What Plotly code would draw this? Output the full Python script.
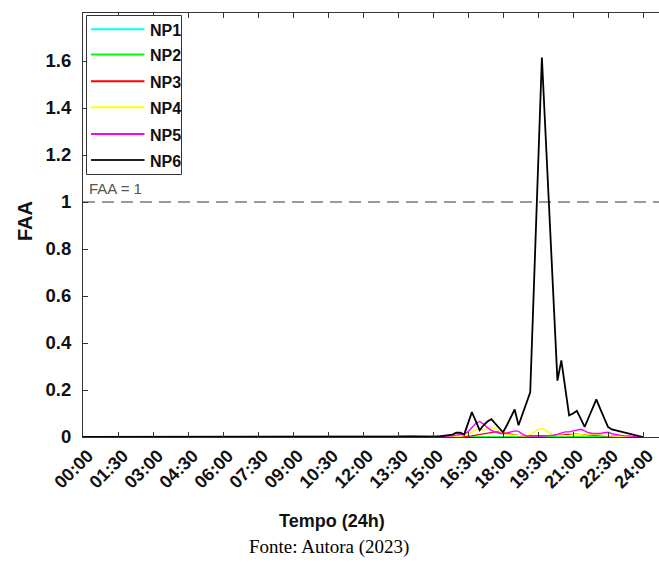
import plotly.graph_objects as go

# ---------------- data ----------------
times = ["00:00", "12:00", "13:00", "13:30", "14:00", "14:30",
         "15:00", "15:10", "15:20", "15:30", "15:40", "15:50",
         "16:00", "16:10", "16:20", "16:30", "16:40", "16:50",
         "17:00", "17:10", "17:20", "17:30", "17:40", "17:50",
         "18:00", "18:10", "18:20", "18:30", "18:40", "18:50",
         "19:00", "19:10", "19:20", "19:30", "19:40", "19:50",
         "20:00", "20:10", "20:20", "20:30", "20:40", "20:50",
         "21:00", "21:10", "21:20", "21:30", "21:40", "21:50",
         "22:00", "22:10", "22:20", "22:30", "22:40", "22:50",
         "23:00", "23:10", "23:20", "23:30", "23:40", "23:50",
         "24:00"]

np1 = [0, 0, 0, 0, 0, 0,
       0, 0, 0, 0, 0, 0,
       0, 0, 0, 0, 0, 0,
       0, 0, 0, 0, 0, 0,
       0, 0, 0, 0, 0, 0,
       0, 0, 0, 0, 0, 0,
       0, 0, 0, 0, 0, 0,
       0, 0, 0, 0, 0, 0,
       0, 0, 0, 0, 0, 0,
       0, 0, 0, 0, 0, 0,
       0]

np2 = [0, 0, 0, 0, 0, 0,
       0, 0, 0, 0, 0, 0,
       0, 0, 0, 0.001, 0.002, 0.002,
       0.002, 0.002, 0.002, 0.002, 0.002, 0.002,
       0.002, 0.002, 0.001, 0.001, 0.001, 0.001,
       0.001, 0.001, 0.001, 0.001, 0.001, 0.001,
       0.001, 0.001, 0.001, 0.001, 0.001, 0.001,
       0.001, 0.001, 0.001, 0.001, 0.001, 0.001,
       0.001, 0.001, 0.001, 0.001, 0.001, 0.001,
       0.001, 0.001, 0.001, 0, 0, 0,
       0]

np3 = [0, 0, 0, 0, 0, 0,
       0, 0, 0, 0, 0, 0,
       0.001, 0.001, 0.002, 0.003, 0.005, 0.008,
       0.012, 0.015, 0.018, 0.020, 0.022, 0.021,
       0.018, 0.014, 0.010, 0.008, 0.006, 0.005,
       0.005, 0.005, 0.004, 0.004, 0.005, 0.005,
       0.006, 0.007, 0.008, 0.009, 0.010, 0.010,
       0.010, 0.012, 0.010, 0.009, 0.008, 0.008,
       0.008, 0.007, 0.006, 0.005, 0.004, 0.003,
       0.003, 0.002, 0.002, 0.001, 0.001, 0,
       0]

np4 = [0, 0, 0, 0, 0, 0,
       0, 0, 0, 0, 0, 0.001,
       0.002, 0.003, 0.006, 0.012, 0.020, 0.030,
       0.034, 0.030, 0.036, 0.040, 0.036, 0.026,
       0.016, 0.010, 0.008, 0.006, 0.005, 0.005,
       0.006, 0.010, 0.020, 0.032, 0.036, 0.028,
       0.016, 0.010, 0.008, 0.006, 0.006, 0.007,
       0.010, 0.012, 0.010, 0.008, 0.010, 0.012,
       0.010, 0.008, 0.006, 0.005, 0.004, 0.003,
       0.003, 0.002, 0.002, 0.001, 0.001, 0,
       0]

np5 = [0, 0, 0.003, 0.002, 0.004, 0.002,
       0, 0.001, 0.002, 0.002, 0.003, 0.005,
       0.008, 0.010, 0.014, 0.022, 0.040, 0.058,
       0.066, 0.055, 0.040, 0.028, 0.022, 0.016,
       0.014, 0.016, 0.022, 0.026, 0.024, 0.012,
       0.005, 0.004, 0.004, 0.003, 0.004, 0.005,
       0.006, 0.008, 0.012, 0.018, 0.022, 0.022,
       0.025, 0.028, 0.033, 0.026, 0.018, 0.015,
       0.014, 0.015, 0.018, 0.020, 0.014, 0.010,
       0.008, 0.006, 0.005, 0.003, 0.002, 0.001,
       0]

np6 = [0, 0, 0.001, 0.002, 0.002, 0.003,
       0.003, 0.003, 0.004, 0.005, 0.006, 0.010,
       0.018, 0.018, 0.010, 0.055, 0.106, 0.068,
       0.029, 0.050, 0.066, 0.076, 0.058, 0.040,
       0.020, 0.050, 0.085, 0.117, 0.050, 0.097,
       0.143, 0.190, 0.665, 1.140, 1.615, 1.270,
       0.930, 0.580, 0.240, 0.326, 0.210, 0.092,
       0.100, 0.111, 0.077, 0.043, 0.082, 0.121,
       0.160, 0.120, 0.082, 0.043, 0.032, 0.028,
       0.025, 0.021, 0.016, 0.010, 0.006, 0.003,
       0]

series_names = ["NP1", "NP2", "NP3", "NP4", "NP5", "NP6"]
series_values = [np1, np2, np3, np4, np5, np6]
series_colors = ["#00FFFF", "#00FF00", "#FF0000", "#FFFF00", "#FF00FF", "#000000"]

x_tick_labels = ["00:00", "01:30", "03:00", "04:30", "06:00", "07:30", "09:00",
                 "10:30", "12:00", "13:30", "15:00", "16:30", "18:00", "19:30",
                 "21:00", "22:30", "24:00"]
y_tick_values = [0, 0.2, 0.4, 0.6, 0.8, 1, 1.2, 1.4, 1.6]
y_tick_labels = ["0", "0.2", "0.4", "0.6", "0.8", "1", "1.2", "1.4", "1.6"]
threshold = 1.0


def to_hours(s):
    h, m = s.split(":")
    return int(h) + int(m) / 60.0


hours = [to_hours(t) for t in times]
x_tick_values = [to_hours(t) for t in x_tick_labels]

# ---------------- layout geometry (pixels) ----------------
W, H = 659, 566
L, R, T, B = 83, 659, 13, 437


def px(x):
    return (x - L) / (R - L)


def py(y):
    return (B - y) / (B - T)


SANS = "Liberation Sans, Arial, sans-serif"
AXC = "#333333"

fig = go.Figure()
for name, vals, col in zip(series_names, series_values, series_colors):
    fig.add_trace(go.Scatter(
        x=hours, y=vals, mode="lines", name=name,
        line=dict(color=col, width=1.8 if name == "NP6" else 1.4),
        showlegend=False,
    ))

shapes = []
annotations = []

# threshold dashed line
shapes.append(dict(type="line", xref="paper", yref="y", x0=0, x1=1,
                   y0=threshold, y1=threshold,
                   line=dict(color="#7a7a7a", width=1.3, dash="12px,7px"),
                   layer="below"))
annotations.append(dict(xref="paper", yref="paper", x=px(87), y=py(188),
                        xanchor="left", yanchor="middle", showarrow=False,
                        text="FAA = 1",
                        font=dict(family=SANS, size=15, color="#555555")))

# legend box (drawn manually to match sample-line length)
shapes.append(dict(type="rect", xref="paper", yref="paper",
                   x0=px(86.5), x1=px(181.5), y0=py(15.5), y1=py(174.5),
                   line=dict(color=AXC, width=1), fillcolor="white",
                   layer="above"))
leg_y = [29.3, 54.6, 81.3, 107.3, 134, 160]
for name, col, yy in zip(series_names, series_colors, leg_y):
    shapes.append(dict(type="line", xref="paper", yref="paper",
                       x0=px(91), x1=px(144.5), y0=py(yy), y1=py(yy),
                       line=dict(color=col if name != "NP6" else "#222222", width=2),
                       layer="above"))
    annotations.append(dict(xref="paper", yref="paper", x=px(147.5), y=py(yy + 1),
                            xanchor="left", yanchor="middle", showarrow=False,
                            text=name,
                            font=dict(family=SANS, size=16, color="#111111",
                                      weight="bold")))

# axis titles and source note
annotations.append(dict(xref="paper", yref="paper", x=px(332), y=py(521),
                        xanchor="center", yanchor="middle", showarrow=False,
                        text="Tempo (24h)",
                        font=dict(family=SANS, size=18, color="#111111", weight="bold")))
annotations.append(dict(xref="paper", yref="paper", x=px(25), y=py(221),
                        xanchor="center", yanchor="middle", showarrow=False,
                        text="FAA", textangle=-90,
                        font=dict(family=SANS, size=20, color="#111111", weight="bold")))
annotations.append(dict(xref="paper", yref="paper", x=px(329), y=py(547),
                        xanchor="center", yanchor="middle", showarrow=False,
                        text="Fonte: Autora (2023)",
                        font=dict(family="Liberation Serif, Times New Roman, serif",
                                  size=19, color="#000000")))

x_end = (R - L) / ((643 - L) / 24.0)
y_end = (B - T) / (B - 202.0)

fig.update_layout(
    width=W, height=H,
    margin=dict(l=L, r=W - R, t=T, b=H - B, pad=0),
    paper_bgcolor="white", plot_bgcolor="white",
    shapes=shapes, annotations=annotations,
    showlegend=False,
    xaxis=dict(range=[0, x_end], tickvals=x_tick_values, ticktext=x_tick_labels,
               tickangle=-45, ticks="inside", ticklen=5, tickcolor=AXC, tickwidth=1,
               showline=True, linecolor=AXC, linewidth=1.2, mirror="ticks",
               showgrid=False, zeroline=False, ticklabelshift=5,
               ticklabeloverflow="allow",
               tickfont=dict(family=SANS, size=18, color="#111111", weight="bold")),
    yaxis=dict(range=[0, y_end], tickvals=y_tick_values, ticktext=y_tick_labels,
               ticks="inside", ticklen=5, tickcolor=AXC, tickwidth=1,
               showline=True, linecolor=AXC, linewidth=1.2, mirror=False,
               showgrid=False, zeroline=False, ticklabelstandoff=7,
               tickfont=dict(family=SANS, size=18.5, color="#111111", weight="bold")),
)

fig.write_html("out.html")
